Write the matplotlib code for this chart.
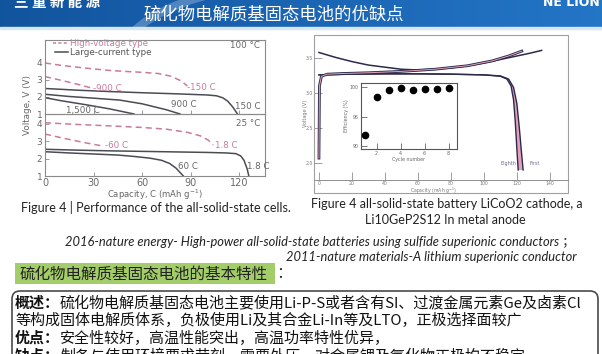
import matplotlib
matplotlib.use('Agg')
import matplotlib.pyplot as plt
import numpy as np
from matplotlib.patches import Rectangle, FancyBboxPatch, Polygon, Arc

# ---------------- data ----------------
# Left chart, top panel (100 °C)
hv150_top_cap = [0, 10, 20, 30, 40, 50, 60, 70, 78, 84, 88]
hv150_top_v = [4.0, 3.86, 3.75, 3.65, 3.56, 3.50, 3.45, 3.38, 3.22, 2.95, 2.65]
hv900_top_cap = [0, 10, 20, 29]
hv900_top_v = [3.2, 2.98, 2.75, 2.52]
lc150_top_cap = [0, 20, 40, 60, 80, 100, 106, 110, 113, 116, 119]
lc150_top_v = [2.5, 2.4, 2.32, 2.25, 2.19, 2.12, 2.07, 1.95, 1.75, 1.42, 1.0]
lc900_top_cap = [0, 15, 30, 46, 60, 75, 83.5]
lc900_top_v = [2.16, 2.03, 1.93, 1.82, 1.6, 1.25, 1.0]
lc1500_top_cap = [0, 10, 25, 40, 55]
lc1500_top_v = [1.96, 1.78, 1.55, 1.3, 1.0]

# Left chart, bottom panel (25 °C)
hv18_bot_cap = [0, 20, 40, 60, 75, 88, 96, 101, 104]
hv18_bot_v = [4.05, 3.95, 3.87, 3.78, 3.68, 3.5, 3.3, 3.05, 2.78]
hv60_bot_cap = [0, 12, 24, 36]
hv60_bot_v = [3.4, 3.15, 2.92, 2.71]
lc18_bot_cap = [0, 20, 40, 60, 80, 100, 112, 118, 121, 123, 125, 126]
lc18_bot_v = [2.53, 2.48, 2.44, 2.41, 2.38, 2.35, 2.32, 2.28, 2.15, 1.9, 1.4, 1.0]
lc60_bot_cap = [0, 15, 30, 45, 55, 65, 72, 77, 81, 84, 85.5]
lc60_bot_v = [2.39, 2.32, 2.26, 2.2, 2.12, 2.02, 1.9, 1.72, 1.45, 1.15, 1.0]

left_xticks = [0, 30, 60, 90, 120]
left_yticks = [1, 2, 3, 4]

# Right chart (LiCoO2 / LGPS / In)
chg_first_cap = [0, 10, 20, 30, 40, 50, 60, 70, 80, 90, 100, 110, 120, 128, 135]
chg_first_v = [3.58, 3.51, 3.45, 3.40, 3.37, 3.34, 3.33, 3.34, 3.36, 3.39, 3.43, 3.48, 3.53, 3.57, 3.61]
chg_eighth_cap = [0, 0.3, 1.5, 5, 15, 30, 50, 70, 90, 105, 115, 123]
chg_eighth_v = [2.07, 3.1, 3.24, 3.27, 3.28, 3.29, 3.31, 3.34, 3.39, 3.46, 3.53, 3.6]
dis_eighth_cap = [0, 20, 40, 60, 80, 100, 110, 114, 116.5, 118, 119, 120, 120.8]
dis_eighth_v = [3.26, 3.27, 3.275, 3.275, 3.27, 3.26, 3.24, 3.2, 3.1, 2.9, 2.6, 2.2, 1.9]
dis_first_cap = [0, 20, 40, 60, 80, 100, 110, 115, 118, 120, 121.5, 122.8, 123.8]
dis_first_v = [3.26, 3.27, 3.275, 3.275, 3.27, 3.26, 3.245, 3.2, 3.08, 2.85, 2.5, 2.15, 1.9]
right_xticks = [0, 20, 40, 60, 80, 100, 120, 140]
right_yticks = [2.0, 2.5, 3.0, 3.5]

# Inset: coulombic efficiency
cycles = [1, 2, 3, 4, 5, 6, 7, 8]
efficiency = [91.9, 98.4, 99.5, 99.9, 99.6, 99.7, 99.75, 99.85]

# ---------------- figure ----------------
W, H = 602, 354
fig = plt.figure(figsize=(W / 100, H / 100), dpi=100)
CJK = ['Noto Sans CJK SC', 'DejaVu Sans']
CAP = ['Lato', 'Noto Sans CJK SC', 'DejaVu Sans']
PINK = '#c97b9c'
DGRAY = '#4b4b55'
NAVY = '#2b2a4c'


def px_axes(x0, y0, x1, y1):
    return fig.add_axes([x0 / W, 1 - y1 / H, (x1 - x0) / W, (y1 - y0) / H])


bg = px_axes(0, 0, W, H)
bg.set_xlim(0, W)
bg.set_ylim(H, 0)
bg.axis('off')

# header band
g = np.linspace(0, 1, 300)
c0 = np.array([0.07, 0.33, 0.62])
c1 = np.array([0.14, 0.46, 0.78])
grad = (c0[None, :] * (1 - g[:, None]) + c1[None, :] * g[:, None])[None, :, :]
bg.imshow(grad, extent=(0, W, 27, 0), aspect='auto', zorder=1)
bg.add_patch(Arc((330, 60), 420, 160, theta1=180, theta2=250, color='white', alpha=0.25, lw=6, zorder=2))
bg.add_patch(Rectangle((0, 27), W, 2, color='#d6e6f2', zorder=2))
bg.text(274, 15, '硫化物电解质基固态电池的优缺点', color='white', fontsize=12.5,
        family=CJK, ha='center', va='center', zorder=3)
bg.text(14, 2, '三 重 新 能 源', color='white', fontsize=10.5, weight='bold',
        family=CJK, ha='left', va='center', zorder=3)
bg.text(600, 2, 'NE LION', color='white', fontsize=9, weight='bold',
        ha='right', va='center', zorder=3)

# ---------------- left chart ----------------
axT = px_axes(45, 40, 265, 114)
axB = px_axes(45, 114, 265, 176)
for ax in (axT, axB):
    ax.set_facecolor('none')
    ax.set_xlim(0, 136)
    for s in ax.spines.values():
        s.set_color('#8a8a8a')
        s.set_linewidth(0.8)
    ax.set_xticks(left_xticks)
    ax.set_yticks(left_yticks)
    ax.tick_params(direction='in', length=3, width=0.6, colors='#8a8a8a',
                   labelcolor='#6a6a6a', labelsize=6.5, pad=2)
axT.set_ylim(1, 5.35)
axB.set_ylim(1, 4.55)
axT.tick_params(axis='x', labelbottom=False)
axB.tick_params(axis='x', labelsize=7, pad=1.2)

dash = (0, (4, 2.6))
axT.plot(hv150_top_cap, hv150_top_v, color=PINK, lw=1.1, ls=dash)
axT.plot(hv900_top_cap, hv900_top_v, color=PINK, lw=1.1, ls=dash)
axT.plot(lc150_top_cap, lc150_top_v, color=DGRAY, lw=1.1)
axT.plot(lc900_top_cap, lc900_top_v, color=DGRAY, lw=1.1)
axT.plot(lc1500_top_cap, lc1500_top_v, color=DGRAY, lw=1.1)
axB.plot(hv18_bot_cap, hv18_bot_v, color=PINK, lw=1.1, ls=dash)
axB.plot(hv60_bot_cap, hv60_bot_v, color=PINK, lw=1.1, ls=dash)
axB.plot(lc18_bot_cap, lc18_bot_v, color=DGRAY, lw=1.1)
axB.plot(lc60_bot_cap, lc60_bot_v, color=DGRAY, lw=1.1)

lk = dict(fontsize=6.3, va='center')
axT.text(29.5, 2.5, '-900 C', color=PINK, **lk)
axT.text(88, 2.55, '-150 C', color=PINK, **lk)
axT.text(13, 1.2, '1,500 C', color='#666', **lk)
axT.text(78, 1.55, '900 C', color='#666', **lk)
axT.text(117.5, 1.43, '150 C', color='#666', **lk)
axT.text(133, 5.05, '100 °C', color='#666', ha='right', fontsize=6.3, va='center')
axB.text(37, 2.77, '-60 C', color=PINK, **lk)
axB.text(105, 2.75, '1.8 C', color=PINK, **lk)
axB.text(82.5, 1.57, '60 C', color='#666', **lk)
axB.text(125, 1.53, '1.8 C', color='#666', **lk)
axB.text(133, 4.0, '25 °C', color='#666', ha='right', fontsize=6.3, va='center')

# legend
axT.plot([5, 14.5], [5.15, 5.15], color=PINK, lw=1.1, ls=(0, (2, 1.5)))
axT.plot([6, 14.5], [4.62, 4.62], color=DGRAY, lw=1.1)
axT.text(15.6, 5.15, 'High-voltage type', color=PINK, fontsize=6.3, va='center')
axT.text(15.6, 4.62, 'Large-current type', color='#555', fontsize=6.3, va='center')

bg.text(27, 105, 'Voltage, V (V)', rotation=90, fontsize=6.3, color='#666',
        ha='center', va='center')
bg.text(155, 195, 'Capacity, C (mAh g$^{-1}$)', fontsize=6.1, color='#666',
        ha='center', va='center')
bg.text(156, 208, 'Figure 4 | Performance of the all-solid-state cells.', fontsize=9.0,
        color='#222', family=CAP, ha='center', va='center')

# ---------------- right chart ----------------
bg.add_patch(Rectangle((314, 35), 254, 158, fill=False, edgecolor='#a0a0a0', lw=0.8, zorder=2))
axR = px_axes(314, 35, 568, 180)
axR.set_facecolor('none')
axR.set_xlim(-3, 151)
axR.set_ylim(1.757, 3.83)
for k in ('left', 'top', 'right'):
    axR.spines[k].set_visible(False)
axR.spines['bottom'].set_color('#909090')
axR.spines['bottom'].set_linewidth(0.7)
axR.set_xticks(right_xticks)
axR.set_yticks(right_yticks)
axR.set_yticklabels(['2.0', '2.5', '3.0', '3.5'])
axR.tick_params(direction='in', length=6, width=0.6, colors='#909090',
                labelcolor='#777', labelsize=3.3, pad=1.0)

band = list(zip(dis_first_cap, dis_first_v)) + list(zip(dis_eighth_cap, dis_eighth_v))[::-1]
axR.add_patch(Polygon(band, closed=True, facecolor='#e3a2b8', edgecolor='none', zorder=1))
axR.plot(dis_first_cap, dis_first_v, color=NAVY, lw=1.0, zorder=3)
axR.plot(dis_eighth_cap, dis_eighth_v, color=NAVY, lw=1.0, zorder=3)
axR.plot(chg_first_cap, chg_first_v, color=NAVY, lw=1.1, zorder=3)
axR.plot(chg_eighth_cap, chg_eighth_v, color=NAVY, lw=2.0, zorder=3)
axR.plot(chg_eighth_cap, chg_eighth_v, color='#e3a2b8', lw=0.7, zorder=4)
axR.text(115, 2.0, 'Eighth', fontsize=3.5, color='#6a6a90', ha='center', va='center')
axR.text(131, 2.0, 'First', fontsize=3.5, color='#6a6a90', ha='center', va='center')

bg.text(305, 113, 'Voltage (V)', rotation=90, fontsize=3.5, color='#777', ha='center', va='center')
bg.text(433, 190.5, 'Capacity (mAh g$^{-1}$)', fontsize=3.3, color='#777', ha='center', va='center')

axI = px_axes(361, 83, 457, 149)
axI.set_facecolor('white')
axI.set_xlim(0.7, 8.7)
axI.set_ylim(89.5, 100.73)
for s in axI.spines.values():
    s.set_color('#555')
    s.set_linewidth(0.8)
axI.set_xticks([2, 4, 6, 8])
axI.set_yticks([90, 95, 100])
axI.tick_params(direction='in', length=4, width=0.6, colors='#666',
                labelcolor='#666', labelsize=3.4, pad=1.5)
axI.scatter(cycles, efficiency, s=20, color='black', zorder=3)
axI.set_xlabel('Cycle number', fontsize=3.4, color='#666', labelpad=1)
axI.set_ylabel('Efficiency (%)', fontsize=3.4, color='#666', labelpad=1)

bg.text(447, 204, 'Figure 4 all-solid-state battery LiCoO2 cathode, a', fontsize=9.0,
        color='#222', family=CAP, ha='center', va='center')
bg.text(445, 220, 'Li10GeP2S12 In metal anode', fontsize=9.0,
        color='#222', family=CAP, ha='center', va='center')

# ---------------- references ----------------
bg.text(575, 242, '2016-nature energy- High-power all-solid-state batteries using sulfide superionic conductors ；',
        fontsize=9.3, style='italic', color='#222', family=CAP, ha='right', va='center')
bg.text(577, 257, '2011-nature materials-A lithium superionic conductor',
        fontsize=9.3, style='italic', color='#222', family=CAP, ha='right', va='center')

# ---------------- green heading ----------------
bg.add_patch(Rectangle((15, 263), 260, 21, facecolor='#a3cd69', edgecolor='none', zorder=2))
bg.text(20, 274, '硫化物电解质基固态电池的基本特性', fontsize=11.2, family=CJK,
        color='#222', ha='left', va='center', zorder=3)
bg.text(276, 274, '：', fontsize=11.2, family=CJK, color='#222', ha='left', va='center', zorder=3)

# ---------------- bordered text box ----------------
bg.add_patch(FancyBboxPatch((12, 291), 586, 90, boxstyle='round,pad=0,rounding_size=8',
                            facecolor='white', edgecolor='#4a4a4a', lw=1.2, zorder=2))
renderer = fig.canvas.get_renderer()
FS = 10.8


def mixed(x, y, bold, rest):
    if bold:
        t = bg.text(x, y, bold, fontsize=FS, family=CJK, weight='bold', color='#111',
                    ha='left', va='center', zorder=3)
        bb = t.get_window_extent(renderer=renderer)
        x = x + bb.width
    bg.text(x, y, rest, fontsize=FS, family=CJK, color='#111', ha='left', va='center', zorder=3)


mixed(15, 303, '概述：', '硫化物电解质基固态电池主要使用Li-P-S或者含有SI、过渡金属元素Ge及卤素Cl')
mixed(15, 321, '', '等构成固体电解质体系，负极使用Li及其合金Li-In等及LTO，正极选择面较广')
mixed(15, 338, '优点：', '安全性较好，高温性能突出，高温功率特性优异，')
mixed(15, 356, '缺点：', '制备与使用环境要求苛刻，需要外压，对金属锂及氧化物正极均不稳定')

fig.savefig('out.png', dpi=100)
